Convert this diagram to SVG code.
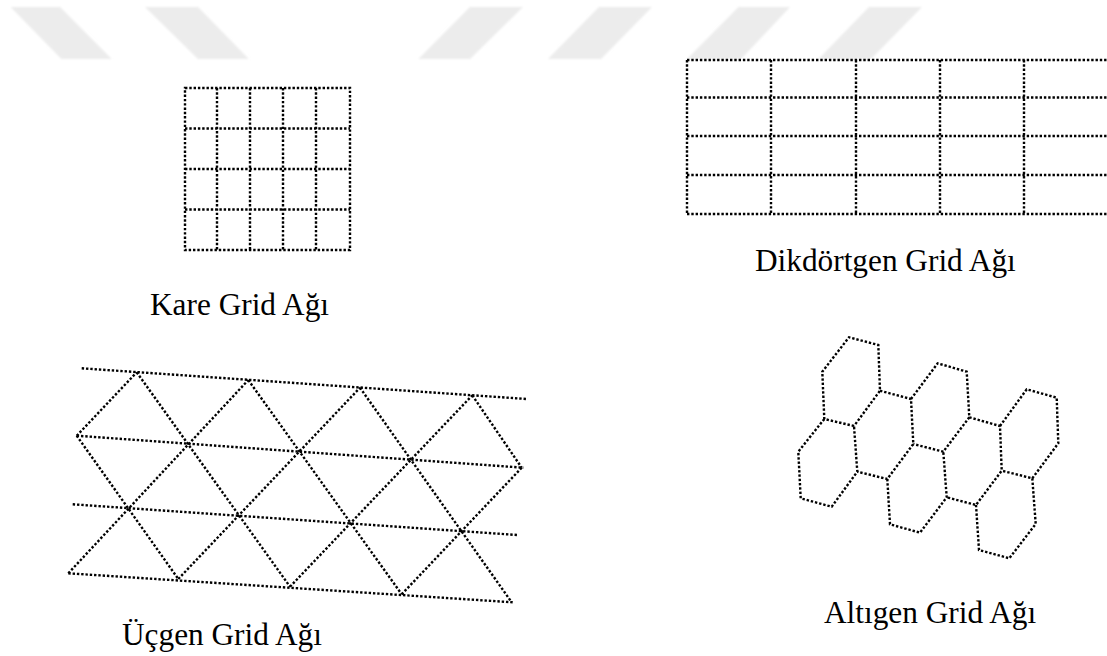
<svg xmlns="http://www.w3.org/2000/svg" width="1107" height="656" viewBox="0 0 1107 656">
<defs>
<style>
.dot{fill:none;stroke:#000;stroke-width:2.4;stroke-dasharray:2.4 1.9;stroke-linecap:butt;}
.lbl{font-family:"Liberation Serif","Times New Roman",serif;font-size:31.3px;fill:#000;}
.wm{fill:#ececec;}
</style>
<filter id="soft" x="-10%" y="-10%" width="120%" height="120%"><feGaussianBlur stdDeviation="0.8"/></filter>
</defs>
<rect width="1107" height="656" fill="#fff"/>
<g id="watermark" filter="url(#soft)">
<polygon class="wm" points="10.6,7 60,7 111.7,59 61.5,59"/>
<polygon class="wm" points="145,7 198,7 248.8,59 198,59"/>
<polygon class="wm" points="470,7 523,7 470,59 418.4,59"/>
<polygon class="wm" points="599,7 652,7 601,59 548,59"/>
<polygon class="wm" points="738.6,7 790,7 741,59 687,59"/>
<polygon class="wm" points="869,7 922,7 871,59 818.5,59"/>
</g>
<g id="kare-grid">
<rect class="dot" x="185" y="88" width="165" height="162"/>
<path class="dot" d="M217,88V250M250,88V250M283,88V250M316,88V250M185,128.5H350M185,169H350M185,209.5H350"/>
</g>
<g id="dikdortgen-grid">
<path class="dot" d="M687,60V214M771,60V214M856,60V214M940,60V214M1024,60V214M687,60H1110M687,97.5H1110M687,136H1110M687,175H1110M687,214H1110"/>
</g>
<g id="ucgen-grid">
<path class="dot" d="M81.7,368.3L526.7,399M76.7,435.7L523.3,467.7M72.7,504.3L517.3,535M68.3,573.3L512.7,602.3"/>
<path class="dot" d="M76.7,435.7L178.3,579M136.7,372.3L290,586.7M248.3,380L401.7,594.3M360,387.7L511.7,602.3M472.3,395.3L521.7,467.7"/>
<path class="dot" d="M76.7,435.7L136.7,372.3M68.3,573.3L248.3,380M178.3,579L360,387.7M290,586.7L472.3,395.3M401.7,594.3L521.7,467.7"/>
</g>
<g id="altigen-grid">
<path class="dot" d="M854,426L824.3,419L822.3,371.7L849,337.3L878.3,345L880,390.7L854,426"/>
<path class="dot" d="M824.3,419L798.3,451.7L800.7,498.3L831.7,506.7L857.3,471.7L854,426"/>
<path class="dot" d="M880,390.7L911,399L913.3,444L887.3,479L857.3,471.7"/>
<path class="dot" d="M911,399L937.7,363.3L966.7,371.7L969.3,417.3L943.3,451.7L913.3,444"/>
<path class="dot" d="M887.3,479L890,524.3L920,532.7L946.7,497.3L943.3,451.7"/>
<path class="dot" d="M969.3,417.3L1000,426L1001.7,470.7L976,505L946.7,497.3"/>
<path class="dot" d="M1000,426L1026.7,389.3L1056.7,397.7L1058.3,443.3L1032.3,478.3L1001.7,470.7"/>
<path class="dot" d="M1032.3,478.3L1035.7,524L1009.3,558.3L979,550L976,505"/>
</g>
<g id="labels">
<text class="lbl" x="150" y="315">Kare Grid Ağı</text>
<text class="lbl" x="755" y="271">Dikdörtgen Grid Ağı</text>
<text class="lbl" x="122" y="645">Üçgen Grid Ağı</text>
<text class="lbl" x="824" y="623">Altıgen Grid Ağı</text>
</g>
</svg>
